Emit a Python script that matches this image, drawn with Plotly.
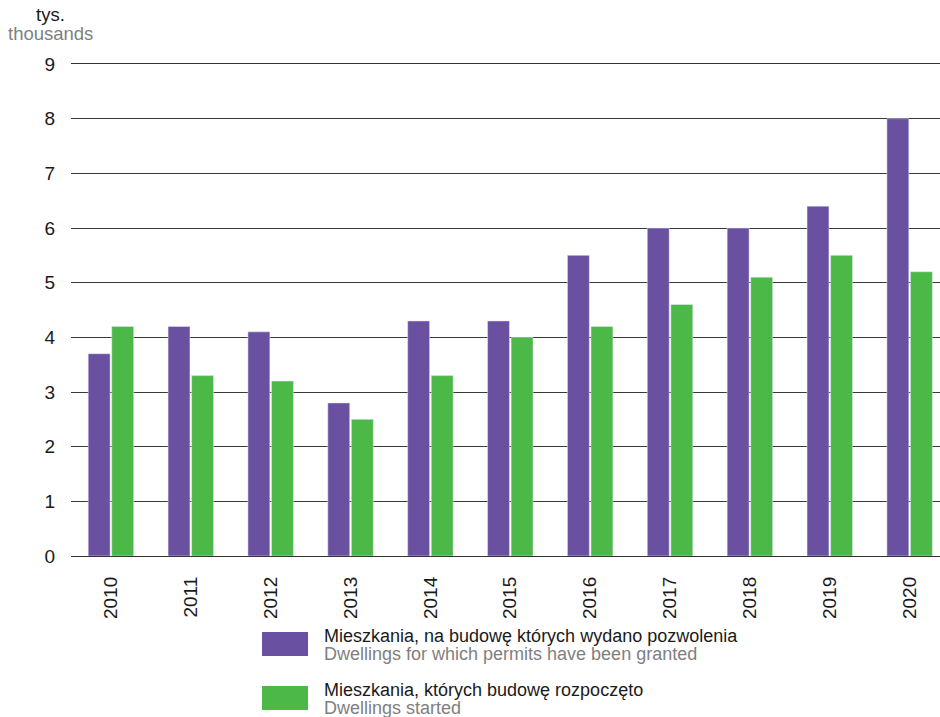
"""
Dwellings: permits granted vs construction started, 2010-2020 (thousands).
"""

import plotly.graph_objects as go

YEARS = ["2010", "2011", "2012", "2013", "2014", "2015",
         "2016", "2017", "2018", "2019", "2020"]
PERMITS = [3.7, 4.2, 4.1, 2.8, 4.3, 4.3, 5.5, 6.0, 6.0, 6.4, 8.0]
STARTED = [4.2, 3.3, 3.2, 2.5, 3.3, 4.0, 4.2, 4.6, 5.1, 5.5, 5.2]
Y_TICKS = list(range(0, 10))

PURPLE = "#6a50a1"
GREEN = "#4cb847"
GRAY = "#7f7f7f"
DARK = "#1a1a1a"
FONT = "Liberation Sans, Arial, sans-serif"

W, H = 940, 717
L, T, B = 71, 64, 161

fig = go.Figure()
fig.add_trace(go.Bar(x=YEARS, y=PERMITS, marker_color=PURPLE,
                     name="permits"))
fig.add_trace(go.Bar(x=YEARS, y=STARTED, marker_color=GREEN,
                     name="started"))

fig.update_layout(
    width=W,
    height=H,
    margin=dict(l=L, r=0, t=T, b=B),
    paper_bgcolor="white",
    plot_bgcolor="white",
    barmode="group",
    bargap=0.41,
    bargroupgap=0.07,
    showlegend=False,
    font=dict(family=FONT, size=18.5, color=DARK),
)
# the original chart runs slightly past the right edge, so the last
# category is partly clipped
fig.update_xaxes(
    type="category",
    range=[-0.5, 10.38],
    tickangle=-90,
    showline=True,
    mirror=True,
    linecolor="#333333",
    linewidth=1.3,
    ticks="",
    ticklabelstandoff=12,
    tickfont=dict(size=19, color=DARK),
)
fig.update_yaxes(
    range=[0, 9],
    tickvals=Y_TICKS,
    showgrid=True,
    gridcolor="#3a3a3a",
    gridwidth=1,
    zeroline=False,
    ticks="",
    ticklabelstandoff=15,
    tickfont=dict(size=19, color=DARK),
)

PLOT_W = W - L
PLOT_H = H - T - B


def px_x(px):
    return (px - L) / PLOT_W


def px_y(py):
    return (H - B - py) / PLOT_H


# axis unit label
fig.add_annotation(text="tys.", xref="paper", yref="paper",
                   x=px_x(50), y=px_y(15), xanchor="center",
                   yanchor="middle", showarrow=False,
                   font=dict(size=18.5, color=DARK))
fig.add_annotation(text="thousands", xref="paper", yref="paper",
                   x=px_x(50), y=px_y(33), xanchor="center",
                   yanchor="middle", showarrow=False,
                   font=dict(size=18.5, color=GRAY))

# custom legend with large swatches
legend_items = [
    (PURPLE, "Mieszkania, na budowę których wydano pozwolenia",
     "Dwellings for which permits have been granted", 632),
    (GREEN, "Mieszkania, których budowę rozpoczęto",
     "Dwellings started", 686),
]
for color, pl, en, top in legend_items:
    fig.add_shape(type="rect", xref="paper", yref="paper",
                  x0=px_x(262), x1=px_x(308), y0=px_y(top + 24), y1=px_y(top),
                  fillcolor=color, line_width=0)
    fig.add_annotation(text=pl, xref="paper", yref="paper",
                       x=px_x(322), y=px_y(top + 4), xanchor="left",
                       yanchor="middle", showarrow=False,
                       font=dict(size=18, color=DARK))
    fig.add_annotation(text=en, xref="paper", yref="paper",
                       x=px_x(322), y=px_y(top + 22), xanchor="left",
                       yanchor="middle", showarrow=False,
                       font=dict(size=18, color=GRAY))

# page body has a default 8px margin; drop it so the figure fills the window
fig.write_html("out.html", config={"displayModeBar": False},
               post_script="document.body.style.margin='0';"
                           "document.body.style.overflow='hidden';")
